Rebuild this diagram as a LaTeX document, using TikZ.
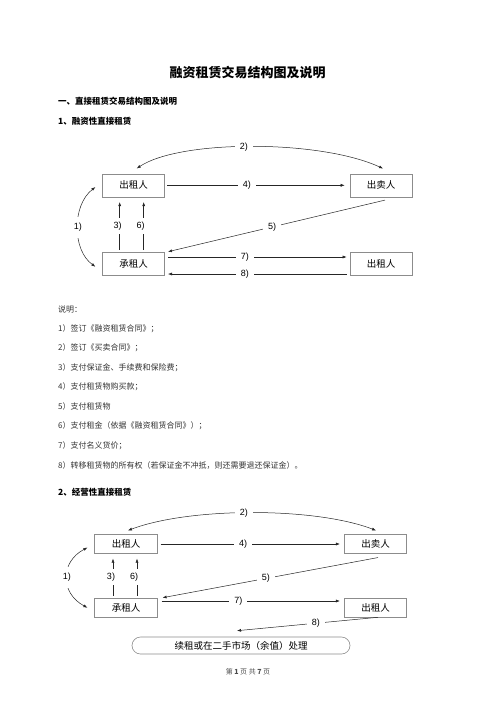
\documentclass[tikz,border=0pt]{standalone}
\usepackage{fontspec}
\setmainfont{Noto Sans CJK SC}
\newfontfamily\arial{Liberation Sans}
\usetikzlibrary{arrows.meta,calc}
\begin{document}
\begin{tikzpicture}[x=1pt,y=-1pt,
  box/.style={draw=black!45,line width=0.6pt,minimum width=62pt,inner sep=0pt,font=\fontsize{9.5}{10}\selectfont},
  conn/.style={draw=black!85,line width=0.5pt,-{Latex[length=4pt,width=3pt]}},
  dconn/.style={draw=black!85,line width=0.5pt,{Latex[length=4pt,width=3pt]}-{Latex[length=4pt,width=3pt]}},
  lbl/.style={fill=white,inner xsep=5pt,inner ysep=1pt,font=\arial\fontsize{9}{10}\selectfont},
  para/.style={anchor=west,inner sep=0pt,text=black!80,font=\fontsize{8}{10}\selectfont},
  head/.style={anchor=west,inner sep=0pt,font=\bfseries\fontsize{8.5}{10}\selectfont}]
\useasboundingbox[fill=white] (0,0) rectangle (496,702);

% title and headings
\node[inner sep=0pt,font=\bfseries\fontsize{13}{14}\selectfont] (title) at (247.5,73) {融资租赁交易结构图及说明};
\node[head] (h1) at (58,101.5) {一、直接租赁交易结构图及说明};
\node[head] (h2) at (58,121.5) {1、融资性直接租赁};

% diagram 1
\node[box,minimum height=23pt] (A1) at (133.7,185.3) {出租人};
\node[box,minimum height=23pt] (B1) at (381,185.3) {出卖人};
\node[box,minimum height=23pt] (C1) at (133.7,263.5) {承租人};
\node[box,minimum height=23pt] (D1) at (381,263.5) {出租人};

\draw[dconn] ($(A1.north)+(3,-5)$) .. controls (180,139.5) and (320,139.5) .. node[lbl,pos=0.47] {2)} ($(B1.north)+(2,-5)$);
\draw[conn] ([xshift=2pt]A1.east) -- node[lbl,pos=0.45] {4)} ([xshift=-5pt]B1.west);
\draw[dconn] ($(A1.south west)+(-7,-10)$) .. controls (72,205) and (72,250) .. node[lbl,inner xsep=1pt,inner ysep=6pt] {1)} ($(C1.north west)+(-7,15)$);
\draw[conn] ($(C1.north)+(-14,-2)$) -- node[lbl,inner xsep=1pt,inner ysep=4pt,xshift=-2pt] {3)} ($(A1.south)+(-14,5)$);
\draw[conn] ($(C1.north)+(10,-2)$) -- node[lbl,inner xsep=1pt,inner ysep=4pt,xshift=-3pt] {6)} ($(A1.south)+(10,5)$);
\draw[conn] ($(B1.south)+(4,3)$) -- node[lbl,pos=0.52] {5)} ($(C1.north east)+(3,0)$);
\draw[conn] ($(C1.east)+(3,-6.5)$) -- node[lbl,pos=0.43] {7)} ($(D1.west)+(-3,-6.5)$);
\draw[conn] ($(D1.west)+(-3,10.5)$) -- node[lbl,pos=0.57] {8)} ($(C1.east)+(3,10.5)$);

% explanation
\node[para] (p0) at (58,309) {说明：};
\node[para] (p1) at (58,328.5) {1）签订《融资租赁合同》；};
\node[para] (p2) at (58,348) {2）签订《买卖合同》；};
\node[para] (p3) at (58,367.5) {3）支付保证金、手续费和保险费；};
\node[para] (p4) at (58,387) {4）支付租赁物购买款；};
\node[para] (p5) at (58,406.5) {5）支付租赁物};
\node[para] (p6) at (58,426) {6）支付租金（依据《融资租赁合同》）；};
\node[para] (p7) at (58,445.5) {7）支付名义货价；};
\node[para] (p8) at (58,465) {8）转移租赁物的所有权（若保证金不冲抵，则还需要退还保证金）。};
\node[head] (h3) at (58,492) {2、经营性直接租赁};

% diagram 2
\node[box,minimum height=18.5pt,minimum width=62.5pt] (A2) at (126,544) {出租人};
\node[box,minimum height=18.5pt,minimum width=62.5pt] (B2) at (375.5,544) {出卖人};
\node[box,minimum height=19pt,minimum width=62.5pt] (C2) at (126,607.5) {承租人};
\node[box,minimum height=19pt,minimum width=62.5pt] (D2) at (375.5,607.5) {出租人};
\node[draw=black!45,line width=0.6pt,rounded corners=8.5pt,minimum width=218pt,minimum height=17pt,inner sep=0pt,font=\fontsize{9.5}{10}\selectfont] (E2) at (241,645.5) {续租或在二手市场（余值）处理};

\draw[dconn] ($(A2.north)+(2,-4)$) .. controls (190,507) and (315,507) .. node[lbl,pos=0.47] {2)} ($(B2.north)+(0.5,-4)$);
\draw[conn] ([xshift=3pt]A2.east) -- node[lbl,pos=0.46] {4)} ([xshift=-4pt]B2.west);
\draw[dconn] ($(A2.south west)+(-7,-6)$) .. controls (60,562) and (60,593) .. node[lbl,inner xsep=1pt,inner ysep=6pt] {1)} ($(C2.north west)+(-7,10)$);
\draw[conn] ($(C2.north)+(-13,-2)$) -- node[lbl,inner xsep=1pt,inner ysep=4pt,xshift=-2pt] {3)} ($(A2.south)+(-13,5)$);
\draw[conn] ($(C2.north)+(11,-2)$) -- node[lbl,inner xsep=1pt,inner ysep=4pt,xshift=-3pt] {6)} ($(A2.south)+(11,5)$);
\draw[conn] ($(B2.south)+(2.5,4)$) -- node[lbl,pos=0.52] {5)} ($(C2.north east)+(5,0)$);
\draw[conn] ($(C2.east)+(4,-6.5)$) -- node[lbl,pos=0.43] {7)} ($(D2.west)+(-4,-6.5)$);
\draw[conn] ($(D2.south)+(2.5,0)$) -- node[lbl,pos=0.44] {8)} ($(E2.north)+(-4,-6)$);

% footer
\node[inner sep=0pt,text=black!70,font=\fontsize{7}{8}\selectfont] (foot) at (248,672) {第 \textbf{1} 页 共 \textbf{7} 页};
\end{tikzpicture}
\end{document}
